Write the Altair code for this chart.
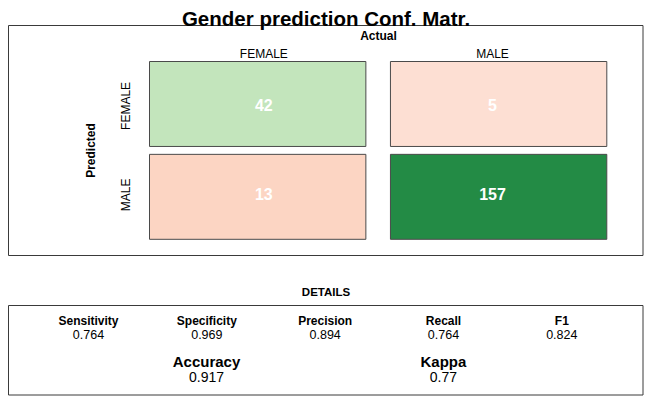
import altair as alt
import pandas as pd

# ---- data ----
classes = ["FEMALE", "MALE"]
# rows = Predicted, columns = Actual
counts = [[42, 5],
          [13, 157]]
metric_names = ["Sensitivity", "Specificity", "Precision", "Recall", "F1"]
metric_values = [0.764, 0.969, 0.894, 0.764, 0.824]
overall_names = ["Accuracy", "Kappa"]
overall_values = [0.917, 0.77]

rows = []
for i, p in enumerate(classes):
    for j, a in enumerate(classes):
        rows.append({"Predicted": p, "Actual": a, "Count": counts[i][j], "diag": i == j})
cells = pd.DataFrame(rows)
diag = cells[cells["diag"]]
off = cells[~cells["diag"]]
metrics = pd.DataFrame({"name": metric_names, "value": metric_values})
overall = pd.DataFrame({"name": overall_names, "value": overall_values})
one = pd.DataFrame({"k": [0]})

W, H = 636, 388
FONT = "Liberation Sans"

xs = alt.Scale(domain=classes, range=[141.5, 598.8], paddingInner=0.102, paddingOuter=0)
ys = alt.Scale(domain=classes, range=[53.5, 231.3], paddingInner=0.085, paddingOuter=0)
ms = alt.Scale(type="point", domain=metric_names, range=[80.5, 553.8], padding=0)
os_ = alt.Scale(type="point", domain=overall_names, range=[198.5, 435.4], padding=0)

def box(x1, x2, y1, y2):
    return alt.Chart(one).mark_rect(fill="white", fillOpacity=0, stroke="#3a3a3a", strokeWidth=1).encode(
        x=alt.value(x1), x2=alt.value(x2), y=alt.value(y1), y2=alt.value(y2))

def label(txt, x, y, size, bold=False, angle=0, color="black", baseline="middle"):
    kw = dict(text=txt, font=FONT, fontSize=size, fontWeight="bold" if bold else "normal",
              align="center", baseline=baseline, color=color)
    if angle:
        kw["angle"] = angle
    return alt.Chart(one).mark_text(**kw).encode(x=alt.value(x), y=alt.value(y))

top_box = box(0.5, 635, 17.5, 247.5)
bot_box = box(0.5, 635, 297.5, 387)

diag_rect = alt.Chart(diag).mark_rect(stroke="#4a4a4a", strokeWidth=1).encode(
    x=alt.X("Actual:N", scale=xs, axis=None),
    y=alt.Y("Predicted:N", scale=ys, axis=None),
    color=alt.Color("Count:Q", scale=alt.Scale(domain=[42, 157], range=["#c3e5bc", "#238b45"]), legend=None),
)
off_rect = alt.Chart(off).mark_rect(stroke="#4a4a4a", strokeWidth=1).encode(
    x=alt.X("Actual:N", scale=xs, axis=None),
    y=alt.Y("Predicted:N", scale=ys, axis=None),
    color=alt.Color("Count:Q", scale=alt.Scale(domain=[5, 13], range=["#fddfd3", "#fcd5c3"]), legend=None),
)
cell_text = alt.Chart(cells).mark_text(font=FONT, fontSize=16, fontWeight="bold", color="white",
                                       align="center", baseline="middle").encode(
    x=alt.X("Actual:N", scale=xs, axis=None, bandPosition=0.5),
    y=alt.Y("Predicted:N", scale=ys, axis=None, bandPosition=0.5),
    text="Count:Q",
)
col_labels = alt.Chart(pd.DataFrame({"Actual": classes})).mark_text(
    font=FONT, fontSize=12, align="center", baseline="middle", color="black").encode(
    x=alt.X("Actual:N", scale=xs, axis=None, bandPosition=0.5),
    y=alt.value(45.5),
    text="Actual:N",
)
row_labels = alt.Chart(pd.DataFrame({"Predicted": classes})).mark_text(
    font=FONT, fontSize=12, align="center", baseline="middle", angle=270, color="black").encode(
    x=alt.value(117.5),
    y=alt.Y("Predicted:N", scale=ys, axis=None, bandPosition=0.5),
    text="Predicted:N",
)
metric_name_t = alt.Chart(metrics).mark_text(font=FONT, fontSize=12, fontWeight="bold",
                                             align="center", baseline="middle", color="black").encode(
    x=alt.X("name:N", scale=ms, axis=None), y=alt.value(312.5), text="name:N")
metric_val_t = alt.Chart(metrics).mark_text(font=FONT, fontSize=12.5,
                                            align="center", baseline="middle", color="black").encode(
    x=alt.X("name:N", scale=ms, axis=None), y=alt.value(327.2), text=alt.Text("value:Q", format=".3~f"))
overall_name_t = alt.Chart(overall).mark_text(font=FONT, fontSize=15, fontWeight="bold",
                                              align="center", baseline="middle", color="black").encode(
    x=alt.X("name:N", scale=os_, axis=None), y=alt.value(353.5), text="name:N")
overall_val_t = alt.Chart(overall).mark_text(font=FONT, fontSize=14,
                                             align="center", baseline="middle", color="black").encode(
    x=alt.X("name:N", scale=os_, axis=None), y=alt.value(369.5), text=alt.Text("value:Q", format=".3~f"))

chart = alt.layer(
    top_box, bot_box,
    diag_rect, off_rect, cell_text, col_labels, row_labels,
    label("Gender prediction Conf. Matr.", 318, 17.5, 20.5, bold=True, baseline="alphabetic"),
    label("Actual", 370.5, 27.5, 12, bold=True),
    label("Predicted", 82.5, 142.5, 12, bold=True, angle=270),
    label("DETAILS", 318, 285.4, 11.5, bold=True),
    metric_name_t, metric_val_t, overall_name_t, overall_val_t,
).resolve_scale(x="independent", y="independent", color="independent").properties(
    width=W, height=H, padding=0, autosize=alt.AutoSizeParams(type="none"),
    background="white",
).configure_view(stroke=None)

chart.save("out.html", embed_options={"renderer": "svg", "actions": False})
